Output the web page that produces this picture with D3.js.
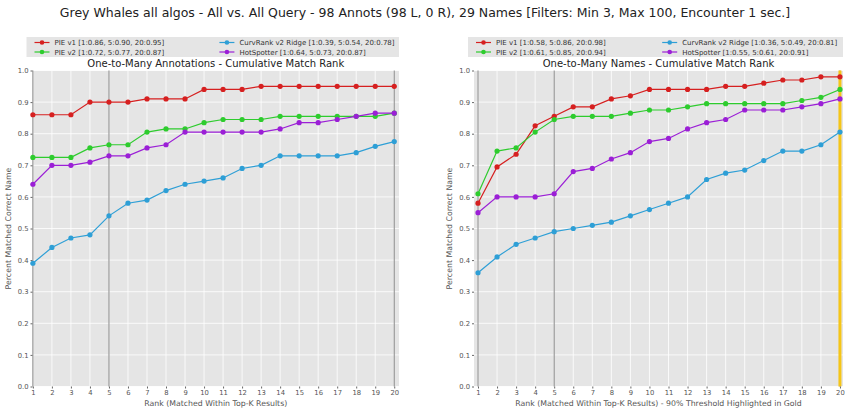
<!DOCTYPE html><html><head><script src="https://cdn.jsdelivr.net/npm/d3@7"></script>
<style>body{margin:0;background:#fff}text{font-family:"DejaVu Sans",sans-serif}</style></head><body><svg id="c" width="850" height="411"></svg>
<script>
const ranks=d3.range(1,21);
const names=["PIE v1","PIE v2","CurvRank v2 Ridge","HotSpotter"];
const colors=["#d62020","#2ecc2e","#2e9fd6","#9b1fd6"];
const annPIE1=[.86,.86,.86,.90,.90,.90,.91,.91,.91,.94,.94,.94,.95,.95,.95,.95,.95,.95,.95,.95];
const annPIE2=[.725,.725,.725,.755,.765,.765,.805,.815,.815,.835,.845,.845,.845,.855,.855,.855,.855,.855,.855,.865];
const annCurv=[.39,.44,.47,.48,.54,.58,.59,.62,.64,.65,.66,.69,.70,.73,.73,.73,.73,.74,.76,.775];
const annHot=[.64,.70,.70,.71,.73,.73,.755,.765,.805,.805,.805,.805,.805,.815,.835,.835,.845,.855,.865,.865];
const nameHot=[.55,.60,.60,.60,.61,.68,.69,.72,.74,.775,.785,.815,.835,.845,.875,.875,.875,.885,.895,.91];
const namePIE1=[.58,.695,.735,.825,.855,.885,.885,.91,.92,.94,.94,.94,.94,.95,.95,.96,.97,.97,.98,.98];
const namePIE2=[.61,.745,.755,.805,.845,.855,.855,.855,.865,.875,.875,.885,.895,.895,.895,.895,.895,.905,.915,.94];
const nameCurv=[.36,.41,.45,.47,.49,.50,.51,.52,.54,.56,.58,.60,.655,.675,.685,.715,.745,.745,.765,.805];
const annLabels=["PIE v1 [1:0.86, 5:0.90, 20:0.95]","PIE v2 [1:0.72, 5:0.77, 20:0.87]","CurvRank v2 Ridge [1:0.39, 5:0.54, 20:0.78]","HotSpotter [1:0.64, 5:0.73, 20:0.87]"];
const nameLabels=["PIE v1 [1:0.58, 5:0.86, 20:0.98]","PIE v2 [1:0.61, 5:0.85, 20:0.94]","CurvRank v2 Ridge [1:0.36, 5:0.49, 20:0.81]","HotSpotter [1:0.55, 5:0.61, 20:0.91]"];
const yTicks=d3.range(0,11).map(i=>i/10);
const svg=d3.select("#c");
svg.append("text").attr("x",425).attr("y",17).attr("text-anchor","middle").attr("font-size",12.5).attr("fill","#222")
 .text("Grey Whales all algos - All vs. All Query - 98 Annots (98 L, 0 R), 29 Names [Filters: Min 3, Max 100, Encounter 1 sec.]");
function panel(x0,x1,dom,series,labels,title,xlabel,gold){
 const y0=70.5,y1=386.5;
 const x=d3.scaleLinear().domain(dom).range([x0,x1]);
 const y=d3.scaleLinear().domain([0,1]).range([y1,y0]);
 const g=svg.append("g");
 g.append("rect").attr("x",x0-6).attr("y",37).attr("width",x1-x0+6).attr("height",20).attr("fill","#e5e5e5");
 labels.forEach((l,i)=>{const lx=i<2?x0+2:x0+(x1-x0)*0.51,ly=42.5+(i%2)*9.5;
  g.append("line").attr("x1",lx).attr("x2",lx+15).attr("y1",ly).attr("y2",ly).attr("stroke",colors[i]).attr("stroke-width",1.2);
  g.append("circle").attr("cx",lx+7.5).attr("cy",ly).attr("r",2.3).attr("fill",colors[i]);
  g.append("text").attr("x",lx+20).attr("y",ly+2.7).attr("font-size",7).attr("fill","#333").text(l);});
 g.append("text").attr("x",(x0+x1)/2).attr("y",67).attr("text-anchor","middle").attr("font-size",10).attr("fill","#222").text(title);
 g.append("rect").attr("x",x0).attr("y",y0).attr("width",x1-x0).attr("height",y1-y0).attr("fill","#e5e5e5");
 yTicks.forEach(t=>g.append("line").attr("x1",x0).attr("x2",x1).attr("y1",y(t)).attr("y2",y(t)).attr("stroke","#fff").attr("stroke-width",0.8));
 ranks.forEach(t=>g.append("line").attr("x1",x(t)).attr("x2",x(t)).attr("y1",y0).attr("y2",y1).attr("stroke","#fff").attr("stroke-width",0.8));
 [1,5,20].forEach(t=>g.append("line").attr("x1",x(t)).attr("x2",x(t)).attr("y1",y0).attr("y2",y1).attr("stroke","#888").attr("stroke-width",1));
 if(gold) g.append("line").attr("x1",x(20)).attr("x2",x(20)).attr("y1",y0).attr("y2",y1).attr("stroke","#f5c518").attr("stroke-width",3);
 const ax=g.append("g").attr("transform",`translate(0,${y1})`).call(d3.axisBottom(x).tickValues(ranks).tickSize(2).tickPadding(2).tickFormat(d3.format("d")));
 const ay=g.append("g").attr("transform",`translate(${x0},0)`).call(d3.axisLeft(y).tickValues(yTicks).tickSize(2).tickPadding(2).tickFormat(d3.format(".1f")));
 [ax,ay].forEach(a=>{a.select(".domain").remove();a.selectAll("line").attr("stroke","#666");a.selectAll("text").attr("font-size",6.8).attr("fill","#555");});
 g.append("text").attr("x",(x0+x1)/2).attr("y",406).attr("text-anchor","middle").attr("font-size",7.8).attr("fill","#555").text(xlabel);
 g.append("text").attr("transform",`translate(${x0-22},${(y0+y1)/2}) rotate(-90)`).attr("text-anchor","middle").attr("font-size",7.8).attr("fill","#555").text("Percent Matched Correct Name");
 const ln=d3.line().x((d,i)=>x(ranks[i])).y(d=>y(d));
 series.forEach((s,i)=>{g.append("path").attr("d",ln(s)).attr("fill","none").attr("stroke",colors[i]).attr("stroke-width",1.2);
  g.selectAll(null).data(s).enter().append("circle").attr("cx",(d,j)=>x(ranks[j])).attr("cy",d=>y(d)).attr("r",2.6).attr("fill",colors[i]);});
}
panel(32.5,399,[0.98,20.25],[annPIE1,annPIE2,annCurv,annHot],annLabels,"One-to-Many Annotations - Cumulative Match Rank","Rank (Matched Within Top-K Results)",false);
panel(474,843,[0.79,20.16],[namePIE1,namePIE2,nameCurv,nameHot],nameLabels,"One-to-Many Names - Cumulative Match Rank","Rank (Matched Within Top-K Results) - 90% Threshold Highlighted in Gold",true);
</script></body></html>
